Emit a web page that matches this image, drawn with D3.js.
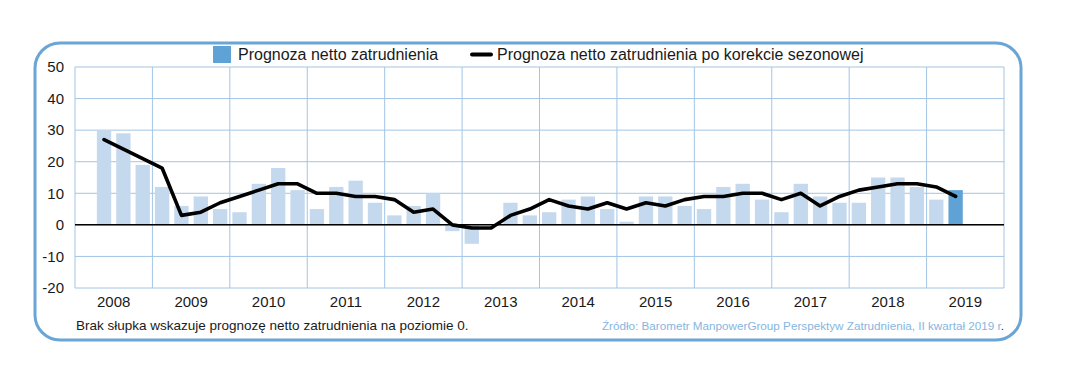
<!DOCTYPE html>
<html><head><meta charset="utf-8">
<script src="https://cdn.jsdelivr.net/npm/d3@7/dist/d3.min.js"></script>
<style>body{margin:0;background:#fff}svg{display:block}</style>
</head><body>
<svg id="c" width="1065" height="380"></svg>
<script>
const years = [2008,2009,2010,2011,2012,2013,2014,2015,2016,2017,2018,2019];
const quarters = ["Q1","Q2","Q3","Q4"];
// first quarter with data: 2008 Q2, last: 2019 Q2
const barValues = [30,29,19, 12,6,9,5, 4,13,18,11, 5,12,14,7, 3,6,10,-2, -6,0,7,3, 4,8,9,5, 1,9,9,6, 5,12,13,8, 4,13,9,7, 7,15,15,12, 8,11];
const lineValues = [27,24,21, 18,3,4,7, 9,11,13,13, 10,10,9,9, 8,4,5,0, -1,-1,3,5, 8,6,5,7, 5,7,6,8, 9,9,10,10, 8,10,6,9, 11,12,13,13, 12,9];
const yTicks = [-20,-10,0,10,20,30,40,50];
const legendLabels = ["Prognoza netto zatrudnienia","Prognoza netto zatrudnienia po korekcie sezonowej"];
const footnote = "Brak słupka wskazuje prognozę netto zatrudnienia na poziomie 0.";
const sourceText = "Źródło: Barometr ManpowerGroup Perspektyw Zatrudnienia, II kwartał 2019 r";

const allKeys = [];
years.forEach(y => quarters.forEach(q => allKeys.push(y + q)));
const dataKeys = allKeys.slice(1, 1 + barValues.length);
const data = dataKeys.map((k, i) => ({key: k, bar: barValues[i], line: lineValues[i]}));

const svg = d3.select("#c");
const L = 75, R = 1004, T = 67, B = 288;
const gridC = "#a2c5e5", lightBar = "#c5d9ee", darkBar = "#5fa2d6";
const font = "'Liberation Sans', Arial, sans-serif";

const x = d3.scaleBand().domain(allKeys).range([L, R]).paddingInner(0.26).paddingOuter(0.13);
const xYear = d3.scaleBand().domain(years).range([L, R]);
const y = d3.scaleLinear().domain([-20, 50]).range([B, T]);

// frame
svg.append("rect").attr("x", 35).attr("y", 43).attr("width", 986).attr("height", 297)
  .attr("rx", 25).attr("fill", "none").attr("stroke", "#6aa5d5").attr("stroke-width", 3);

// grid
const g = svg.append("g");
g.selectAll("line.h").data(yTicks).join("line")
  .attr("x1", L).attr("x2", R).attr("y1", d => y(d)).attr("y2", d => y(d))
  .attr("stroke", gridC).attr("stroke-width", 1);
g.selectAll("line.v").data(years.concat(["end"])).join("line")
  .attr("x1", d => d === "end" ? R : xYear(d)).attr("x2", d => d === "end" ? R : xYear(d))
  .attr("y1", T).attr("y2", B).attr("stroke", gridC).attr("stroke-width", 1);

// bars
svg.append("g").selectAll("rect").data(data.filter(d => d.bar !== 0)).join("rect")
  .attr("x", d => x(d.key)).attr("width", x.bandwidth())
  .attr("y", d => y(Math.max(0, d.bar))).attr("height", d => Math.abs(y(d.bar) - y(0)))
  .attr("fill", d => d.key === dataKeys[dataKeys.length - 1] ? darkBar : lightBar);

// zero line
svg.append("line").attr("x1", L).attr("x2", R).attr("y1", y(0)).attr("y2", y(0))
  .attr("stroke", "#000").attr("stroke-width", 1.5);

// seasonal line
svg.append("path").datum(data)
  .attr("d", d3.line().x(d => x(d.key) + x.bandwidth() / 2).y(d => y(d.line)))
  .attr("fill", "none").attr("stroke", "#000").attr("stroke-width", 3.6)
  .attr("stroke-linejoin", "round").attr("stroke-linecap", "round");

// y axis labels (hyphen minus as in the original)
const yAxis = d3.axisLeft(y).tickValues(yTicks).tickFormat(d => String(d)).tickSize(0).tickPadding(11);
const ya = svg.append("g").attr("transform", `translate(${L},0)`).call(yAxis);
ya.select(".domain").remove();
ya.selectAll("text").attr("font-family", font).attr("font-size", 15).attr("fill", "#1a1a1a");

// x axis labels
const xAxis = d3.axisBottom(xYear).tickSize(0).tickPadding(8);
const xa = svg.append("g").attr("transform", `translate(0,${B})`).call(xAxis);
xa.select(".domain").remove();
xa.selectAll("text").attr("font-family", font).attr("font-size", 15).attr("fill", "#1a1a1a");

// legend
const lg = svg.append("g").attr("font-family", font).attr("font-size", 16).attr("fill", "#1a1a1a");
lg.append("rect").attr("x", 213).attr("y", 46).attr("width", 18).attr("height", 17).attr("fill", darkBar);
lg.append("text").attr("x", 238).attr("y", 60).text(legendLabels[0]);
lg.append("line").attr("x1", 472).attr("x2", 491).attr("y1", 54.5).attr("y2", 54.5)
  .attr("stroke", "#000").attr("stroke-width", 4).attr("stroke-linecap", "round");
lg.append("text").attr("x", 497).attr("y", 60).text(legendLabels[1]);

// footnote
svg.append("text").attr("x", 76).attr("y", 330).attr("font-family", font).attr("font-size", 13.5)
  .attr("fill", "#1a1a1a").text(footnote);

// source
const st = svg.append("text").attr("x", 1004).attr("y", 330).attr("text-anchor", "end")
  .attr("font-family", font).attr("font-size", 11.7).attr("fill", "#86b6df");
st.append("tspan").text(sourceText);
st.append("tspan").attr("fill", "#1a1a1a").text(".");
</script>
</body></html>
